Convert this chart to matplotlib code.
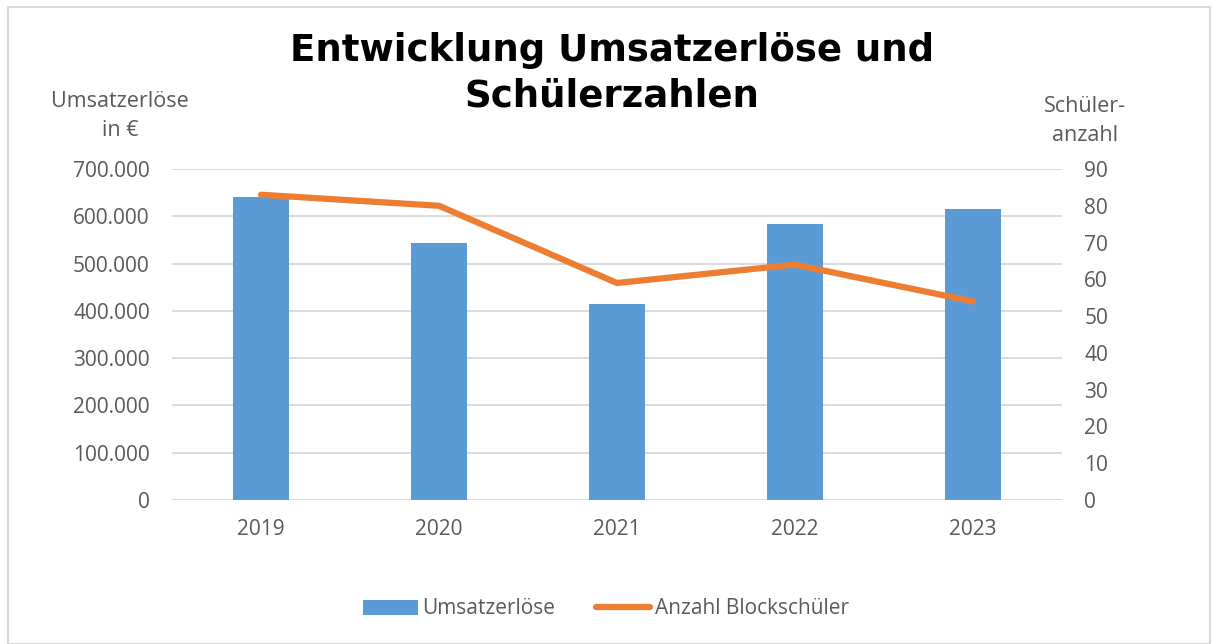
import numpy as np
import matplotlib.pyplot as plt
from matplotlib.patches import Rectangle
from matplotlib.ticker import FuncFormatter

years = ["2019", "2020", "2021", "2022", "2023"]
umsatz = [641000, 543000, 414000, 583000, 615000]
schueler = [83, 80, 59, 64, 54]

plt.rcParams['font.family'] = ['Open Sans', 'DejaVu Sans']
grey = "#595959"

fig = plt.figure(figsize=(12.12, 6.44), dpi=100)
ax = fig.add_axes([172/1212, 1-500/644, 890/1212, 331/644])
ax2 = ax.twinx()

x = np.arange(len(years))
bars = ax.bar(x, umsatz, width=0.32, color="#5B9BD5", label="Umsatzerlöse", zorder=2)
line, = ax2.plot(x, schueler, color="#ED7D31", lw=4.5, solid_capstyle="round",
                 label="Anzahl Blockschüler", zorder=3)

ax.set_xlim(-0.5, 4.5)
ax.set_ylim(0, 700000)
ax.set_yticks(np.arange(0, 700001, 100000))
ax.yaxis.set_major_formatter(FuncFormatter(lambda v, p: f"{int(v):,}".replace(",", ".")))
ax2.set_ylim(0, 90)
ax2.set_yticks(np.arange(0, 91, 10))
ax.set_xticks(x)
ax.set_xticklabels(years)

ax.grid(axis="y", color="#D9D9D9", lw=1.3, zorder=0)
ax.set_axisbelow(True)
for a in (ax, ax2):
    for s in ("top", "left", "right", "bottom"):
        a.spines[s].set_visible(False)
    a.tick_params(length=0, labelsize=15, labelcolor=grey, pad=16)
ax.tick_params(axis="x", pad=14)
ax.axhline(0, color="#D9D9D9", lw=1.3, zorder=1)

fig.text(0.505, 1-73/644, "Entwicklung Umsatzerlöse und\nSchülerzahlen", ha="center", va="center",
         fontsize=26.7, fontweight="bold", linespacing=1.3, family=['DejaVu Sans'])
fig.text(120/1212, 1-116/644, "Umsatzerlöse\nin €", ha="center", va="center",
         fontsize=15.5, color=grey, linespacing=1.45)
fig.text(1085/1212, 1-121/644, "Schüler-\nanzahl", ha="center", va="center",
         fontsize=15.5, color=grey, linespacing=1.45)

fig.legend([bars, line], ["Umsatzerlöse", "Anzahl Blockschüler"], loc="center",
           bbox_to_anchor=(0.5, 1-609/644), ncol=2, frameon=False, fontsize=15,
           labelcolor=grey, handlelength=2.6, handletextpad=0.2, columnspacing=2.0)

fig.patches.append(Rectangle((8/1212, 0), 1202/1212, 1-7/644, transform=fig.transFigure,
                             fill=False, edgecolor="#D9D9D9", lw=1.5))

fig.savefig("out.png", dpi=100)
